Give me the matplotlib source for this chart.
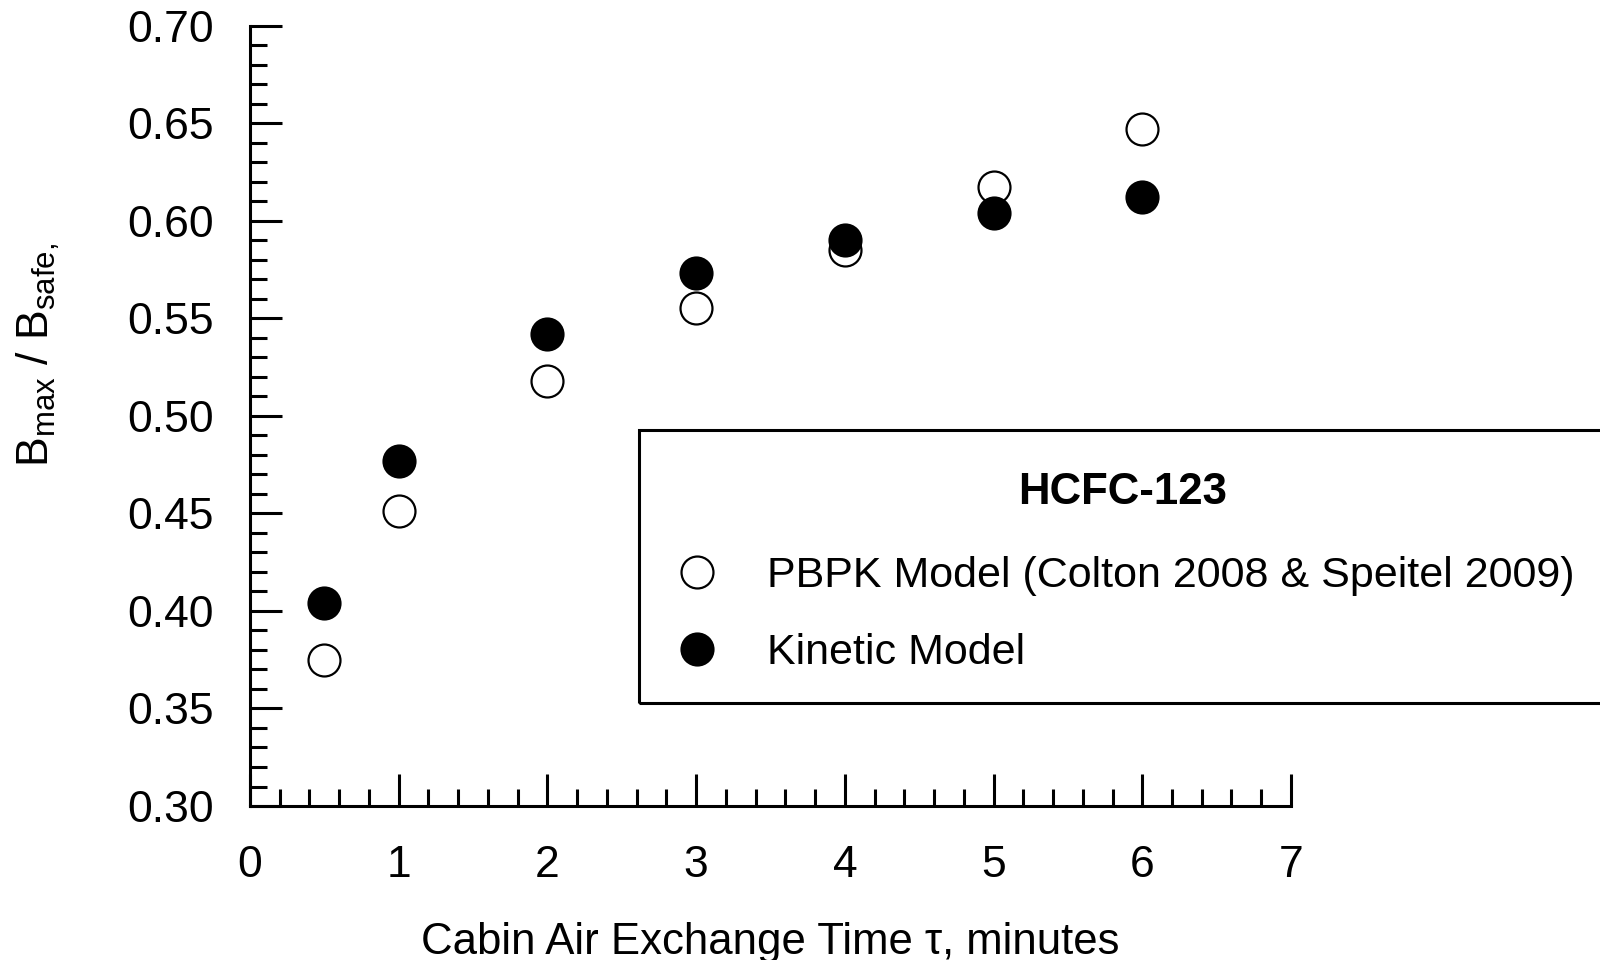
import matplotlib
matplotlib.use("Agg")
import matplotlib.pyplot as plt
from matplotlib.lines import Line2D
from matplotlib.patches import Rectangle
from matplotlib.ticker import MultipleLocator

plt.rcParams['font.family'] = ['Liberation Sans', 'DejaVu Sans']
plt.rcParams['mathtext.fontset'] = 'custom'
plt.rcParams['mathtext.rm'] = 'Liberation Sans'

# cabin air exchange time (minutes) and Bmax/Bsafe for each model
tau = [0.5, 1, 2, 3, 4, 5, 6]
pbpk = [0.375, 0.451, 0.518, 0.555, 0.585, 0.617, 0.647]
kinetic = [0.404, 0.477, 0.542, 0.573, 0.590, 0.604, 0.612]

fs = 31.5
lw = 2.2

fig = plt.figure(figsize=(16, 9.6), dpi=100)
ax = fig.add_axes([0.15625, 0.1604, 0.6506, 0.8130])

ax.plot(tau, pbpk, 'o', ms=23, mfc='white', mec='black', mew=1.6, clip_on=False, zorder=3)
ax.plot(tau, kinetic, 'o', ms=23, mfc='black', mec='black', mew=1.6, clip_on=False, zorder=4)

ax.set_xlim(0, 7)
ax.set_ylim(0.30, 0.70)
ax.xaxis.set_major_locator(MultipleLocator(1))
ax.xaxis.set_minor_locator(MultipleLocator(0.2))
ax.yaxis.set_major_locator(MultipleLocator(0.05))
ax.yaxis.set_minor_locator(MultipleLocator(0.01))
ax.yaxis.set_major_formatter(plt.FormatStrFormatter('%.2f'))

for s in ['top', 'right']:
    ax.spines[s].set_visible(False)
for s in ['left', 'bottom']:
    ax.spines[s].set_linewidth(lw)

ax.tick_params(which='both', direction='in', width=lw, labelsize=32, colors='black')
ax.tick_params(which='major', length=23)
ax.tick_params(which='minor', length=12)
ax.tick_params(axis='y', which='major', pad=26)
ax.tick_params(axis='x', which='major', pad=28)

ax.set_xlabel('Cabin Air Exchange Time τ, minutes', fontsize=fs, labelpad=26)
fig.text(0.024, 0.630, r'B$_\mathregular{max}$ / B$_\mathregular{safe,}$',
         fontsize=32, rotation=90, ha='center', va='center')

# legend box runs off the right edge of the figure
fig.patches.append(Rectangle((639 / 1600, 1 - 703 / 960), 0.7, (703 - 430) / 960,
                             transform=fig.transFigure, fill=False, ec='black', lw=lw))
fig.text(1123 / 1600, 1 - 493 / 960, 'HCFC-123', fontsize=fs, fontweight='bold',
         ha='center', va='center')

handles = [Line2D([], [], ls='none', marker='o', ms=23, mfc='white', mec='black', mew=1.6),
           Line2D([], [], ls='none', marker='o', ms=23, mfc='black', mec='black', mew=1.6)]
labels = ['PBPK Model (Colton 2008 & Speitel 2009)', 'Kinetic Model']
fig.legend(handles, labels, loc='upper left', bbox_to_anchor=(654 / 1600, 1 - 556 / 960),
           frameon=False, fontsize=31, borderpad=0, borderaxespad=0,
           handlelength=2, handletextpad=0.62, labelspacing=0.86)

fig.savefig('out.png', dpi=100)
